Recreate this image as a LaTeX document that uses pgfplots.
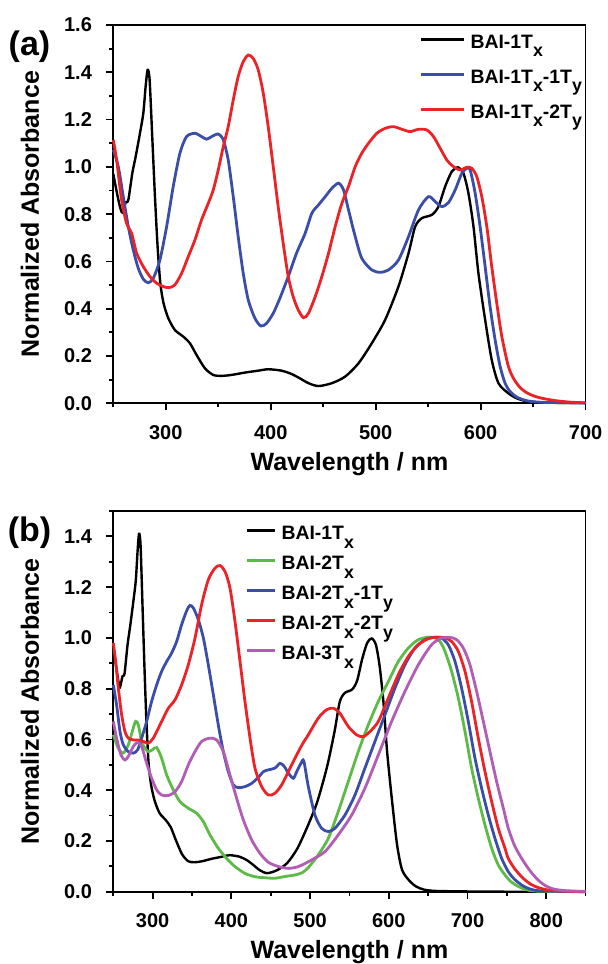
\documentclass[border=0pt]{standalone}
\usepackage{fontspec}
\setmainfont{Liberation Sans}
\usepackage{pgfplots}
\pgfplotsset{compat=1.18}
\definecolor{cblue}{RGB}{58,77,168}
\definecolor{cred}{RGB}{236,34,39}
\definecolor{cgreen}{RGB}{92,186,70}
\definecolor{cpurple}{RGB}{178,92,182}
\newcommand{\sub}[1]{\raisebox{-0.42em}{\fontsize{8.9}{9}\selectfont #1}}

\pgfplotstableread{
x y
250 0.97
253 0.90
256.3 0.832
258.6 0.807
261.7 0.849
264.3 0.86
268.1 0.973
271.3 1.043
275.4 1.142
278.6 1.227
280.8 1.34
282.7 1.41
284.6 1.368
287.1 1.128
289.7 0.874
292.2 0.663
294.8 0.508
297.9 0.423
302.4 0.36
308.7 0.31
316.7 0.282
323 0.254
329.4 0.204
337.3 0.148
345.2 0.12
353.2 0.116
362.7 0.12
375.4 0.13
388.1 0.138
397.6 0.144
410.3 0.138
419.8 0.124
428 0.105
436 0.085
445.5 0.073
458.2 0.085
470.9 0.113
483.6 0.169
496.3 0.254
509 0.353
521.7 0.494
531.3 0.635
537.6 0.747
544 0.783
553.5 0.797
559.8 0.832
566.2 0.917
572.5 0.98
578.2 0.998
583.6 0.973
588.4 0.888
593.2 0.747
597.9 0.55
604.3 0.353
610.6 0.183
617 0.085
626.5 0.042
635 0.02
645 0.008
660 0.003
700 0.001
750 0
850 0
}\blackdata

\pgfplotstableread{
x y
250 1.072
254.8 1.0
259.5 0.874
264.3 0.747
269 0.649
273.8 0.571
278.6 0.525
283.3 0.51
288.1 0.529
294.4 0.606
300.8 0.747
307.1 0.917
313.5 1.058
319.8 1.128
327.8 1.142
334.1 1.128
338.9 1.117
343.7 1.128
350 1.139
354.8 1.114
359.5 1.029
364.3 0.874
369 0.705
373.8 0.55
378.6 0.437
384.9 0.36
390.6 0.327
396 0.338
402.4 0.381
408.7 0.444
416.7 0.536
424.6 0.635
432.8 0.719
439.2 0.804
445.5 0.839
451.9 0.874
458.2 0.909
464.6 0.931
469.4 0.902
474.1 0.818
480.5 0.705
486.8 0.613
496.3 0.564
504.3 0.554
512.2 0.564
521.7 0.606
531.3 0.705
540.8 0.818
550.3 0.874
556.7 0.853
563 0.832
569.4 0.849
575.7 0.902
582.1 0.973
586.8 0.994
590 0.987
594.8 0.888
599.5 0.747
604.3 0.578
609 0.409
613.8 0.268
618.6 0.155
623.3 0.085
628 0.05
635 0.025
645 0.01
660 0.004
700 0.001
}\blueA

\pgfplotstableread{
x y
250 1.114
253.2 1.029
257.9 0.86
262.7 0.761
267.5 0.719
272.2 0.635
278.6 0.578
284.9 0.536
291.3 0.508
297.6 0.494
303 0.489
308.7 0.501
315.1 0.55
321.4 0.62
327.8 0.691
334.1 0.776
340.5 0.846
345.2 0.902
350 0.987
354.8 1.086
359.5 1.17
364.3 1.283
369 1.382
373.8 1.445
378.6 1.473
383.3 1.459
388.1 1.41
392.9 1.311
397.6 1.17
402.4 1.001
407.1 0.832
411.9 0.677
416.7 0.536
421.4 0.451
426.2 0.395
431.3 0.362
436 0.381
442.4 0.451
448.7 0.536
455.1 0.635
461.4 0.747
467.8 0.846
474.1 0.917
480.5 1.001
486.8 1.058
493.2 1.1
501.1 1.142
509 1.163
517 1.17
524.9 1.159
532.8 1.149
540.8 1.159
548.7 1.156
555.1 1.128
561.4 1.079
567.8 1.029
574.1 1.001
580.5 0.987
586.8 0.998
591.6 0.994
596.3 0.959
601.1 0.874
605.9 0.747
610.6 0.578
615.4 0.423
620.2 0.282
626.5 0.155
632 0.1
638 0.065
645 0.042
655 0.025
670 0.012
685 0.005
700 0.002
}\redA

\pgfplotstableread{
x y
250 0.618
256.4 0.565
262.7 0.546
269.1 0.579
274.1 0.631
278.4 0.671
281.8 0.657
286 0.592
290.2 0.565
294.5 0.552
299.6 0.559
305.1 0.568
311.4 0.526
317.8 0.46
326.2 0.401
334.7 0.355
345.3 0.329
355.9 0.309
364.4 0.276
372.8 0.224
383.4 0.171
394 0.131
404.6 0.099
417.3 0.072
430 0.059
442.7 0.055
455.4 0.053
468.1 0.06
480.8 0.066
490 0.075
497.7 0.095
510.4 0.145
523.1 0.21
535.8 0.316
548.5 0.434
561.2 0.552
573.9 0.657
586.7 0.75
599.4 0.828
612.1 0.907
624.8 0.96
637.5 0.993
650.2 1.003
658.7 1.0
665 0.986
671.4 0.947
679.8 0.868
688.3 0.763
696.8 0.631
705.2 0.487
713.7 0.368
722.2 0.263
730.7 0.171
739.1 0.105
747.6 0.066
755 0.04
765 0.02
775 0.008
790 0.002
850 0
}\greenB

\pgfplotstableread{
x y
250 0.815
254.2 0.736
258.5 0.631
262.7 0.579
269.1 0.552
275.4 0.546
280.9 0.559
286 0.605
292.4 0.671
298.7 0.75
305.1 0.815
311.4 0.868
317.8 0.907
324.1 0.94
330.5 0.986
336.8 1.052
343.2 1.107
347.4 1.128
351.7 1.118
358 1.072
364.4 1.0
370.7 0.894
377.1 0.776
383.4 0.657
389.8 0.552
396.1 0.473
402.5 0.421
408.8 0.41
417.3 0.414
425.8 0.427
434.2 0.45
440.6 0.473
446.9 0.48
455.4 0.487
461.8 0.506
467.3 0.493
472.4 0.467
478.7 0.447
483 0.473
488.5 0.506
492 0.515
497.7 0.415
506.2 0.302
514.6 0.25
523.1 0.237
531.6 0.25
544.3 0.302
557 0.381
569.7 0.487
582.4 0.592
595.1 0.697
607.8 0.802
620.5 0.894
633.2 0.96
646 0.993
658.7 1.003
667.1 0.999
675.6 0.973
684.1 0.907
692.5 0.802
701 0.671
709.5 0.526
717.9 0.408
726.4 0.302
734.9 0.21
743.4 0.131
751.8 0.079
760 0.048
770 0.024
780 0.01
795 0.003
850 0
}\blueB

\pgfplotstableread{
x y
250 0.98
253 0.907
256.4 0.802
260.6 0.697
264.8 0.631
269.1 0.605
275.4 0.598
281.8 0.598
288.1 0.592
294.5 0.585
300.8 0.605
307.2 0.644
313.5 0.684
319.9 0.723
328.4 0.756
336.8 0.815
345.3 0.894
353.8 0.999
362.2 1.131
370.7 1.229
379.2 1.275
385.5 1.285
391.9 1.262
398.2 1.197
404.6 1.065
411 0.907
417.3 0.749
423.7 0.605
430 0.487
438.5 0.414
447 0.381
455.4 0.388
463.9 0.421
472.4 0.473
480.8 0.526
490 0.58
497.7 0.618
510.4 0.684
521 0.717
529.5 0.723
537.9 0.703
548.5 0.651
559.1 0.618
567.6 0.611
576.1 0.631
586.7 0.671
599.4 0.763
612.1 0.855
624.8 0.927
637.5 0.973
650.2 0.997
662.9 1.003
671.4 1.0
679.8 0.986
688.3 0.947
696.8 0.868
705.2 0.749
713.7 0.605
722.2 0.473
730.7 0.355
739.1 0.25
747.6 0.171
751.8 0.131
760 0.09
770 0.055
780 0.03
790 0.016
800 0.008
815 0.003
850 0
}\redB

\pgfplotstableread{
x y
250 0.671
254.2 0.605
259.7 0.539
264.8 0.519
269.1 0.533
275.4 0.572
280.9 0.589
286 0.572
292.4 0.506
298.7 0.447
305.1 0.401
311.4 0.381
319.9 0.379
328.4 0.394
336.8 0.434
345.3 0.5
353.8 0.552
362.2 0.592
372.8 0.605
381.3 0.598
389.8 0.552
398.2 0.46
406.7 0.368
415.2 0.283
425.8 0.204
436.4 0.151
447 0.116
459.7 0.099
472.4 0.092
485.1 0.099
501.9 0.125
518.9 0.158
535.8 0.224
552.8 0.302
569.7 0.408
586.7 0.539
603.6 0.671
620.5 0.789
637.5 0.894
654.4 0.973
667.1 0.999
677.7 1.002
686.2 0.993
694.7 0.96
703.1 0.894
711.6 0.789
720.1 0.671
728.5 0.552
737 0.434
745.5 0.329
751.8 0.25
760 0.18
770 0.125
780 0.08
790 0.045
800 0.022
810 0.01
825 0.004
850 0.001
}\purpleB

\pgfplotsset{
  myaxis/.style={
    scale only axis, width=236.15pt, clip=false,
    axis line style={line width=0.9pt},
    tick align=outside, xtick pos=bottom, ytick pos=left,
    major tick length=3.5pt, minor tick length=2pt,
    every tick/.style={line width=0.9pt, black},
    tick label style={font=\bfseries\fontsize{10}{12}\selectfont},
    /pgf/number format/assume math mode=true,
    yticklabel style={anchor=east, inner sep=0pt, xshift=-7pt,
      /pgf/number format/.cd, fixed, fixed zerofill, precision=1},
    xticklabel style={anchor=base, inner sep=0pt, yshift=-14.5pt},
    label style={font=\bfseries\fontsize{12.5}{14}\selectfont},
    xlabel style={at={([yshift=-33.5pt]axis description cs:0.5,0)}, anchor=base},
    ylabel style={at={([xshift=-41.65pt]axis description cs:0,0.5)}, anchor=center},
    legend style={draw=none, fill=none, inner sep=0pt, column sep=2.8pt,
      font=\bfseries\fontsize{9.7}{11}\selectfont,
      nodes={inner sep=0pt, text height=7pt, text depth=4pt}},
    legend cell align=left,
    every axis plot/.append style={line width=1.4pt, smooth, tension=0.45},
    xlabel={Wavelength / nm}, ylabel={Normalized Absorbance},
  }
}

\begin{document}
\begin{tikzpicture}
\path[use as bounding box] (-56.65pt,201.65pt) rectangle (247.35pt,-280.35pt);
\begin{axis}[myaxis, height=189.15pt,
  xmin=250, xmax=700, ymin=0, ymax=1.6,
  xtick={300,400,500,600,700}, minor xtick={250,350,450,550,650},
  ytick={0,0.2,0.4,0.6,0.8,1.0,1.2,1.4,1.6},
  minor ytick={0.1,0.3,0.5,0.7,0.9,1.1,1.3,1.5},
  legend image code/.code={\draw[#1, line width=1.4pt] (0pt,3pt) -- (21.2pt,3pt);},
  legend style={at={(axis description cs:0.648,0.977)}, anchor=north west, row sep=6.5pt}]
\addplot[black, line width=1.2pt] table[x=x,y=y, restrict x to domain=250:700] {\blackdata};
\addlegendentry{BAI-1T\sub{x}}
\addplot[cblue] table[x=x,y=y] {\blueA};
\addlegendentry{BAI-1T\sub{x}-1T\sub{y}}
\addplot[cred] table[x=x,y=y] {\redA};
\addlegendentry{BAI-1T\sub{x}-2T\sub{y}}
\node[font=\bfseries\fontsize{17}{20}\selectfont] at ([xshift=-41.9pt,yshift=-10.85pt]axis description cs:0,1) {(a)};
\end{axis}
\begin{axis}[myaxis, height=190.35pt, at={(0,-244.2pt)},
  xmin=250, xmax=850, ymin=0, ymax=1.5,
  xtick={300,400,500,600,700,800}, minor xtick={250,350,450,550,650,750,850},
  ytick={0,0.2,0.4,0.6,0.8,1.0,1.2,1.4},
  minor ytick={0.1,0.3,0.5,0.7,0.9,1.1,1.3,1.5},
  legend image code/.code={\draw[#1, line width=1.4pt] (0pt,3pt) -- (13.85pt,3pt);},
  legend style={at={(axis description cs:0.279,0.962)}, anchor=north west, row sep=4pt}]
\addplot[black, line width=1.2pt] table[x=x,y=y] {\blackdata};
\addlegendentry{BAI-1T\sub{x}}
\addplot[cgreen] table[x=x,y=y] {\greenB};
\addlegendentry{BAI-2T\sub{x}}
\addplot[cblue] table[x=x,y=y] {\blueB};
\addlegendentry{BAI-2T\sub{x}-1T\sub{y}}
\addplot[cred] table[x=x,y=y] {\redB};
\addlegendentry{BAI-2T\sub{x}-2T\sub{y}}
\addplot[cpurple] table[x=x,y=y] {\purpleB};
\addlegendentry{BAI-3T\sub{x}}
\node[font=\bfseries\fontsize{17}{20}\selectfont] at ([xshift=-41.9pt,yshift=-10.85pt]axis description cs:0,1) {(b)};
\end{axis}
\end{tikzpicture}
\end{document}
